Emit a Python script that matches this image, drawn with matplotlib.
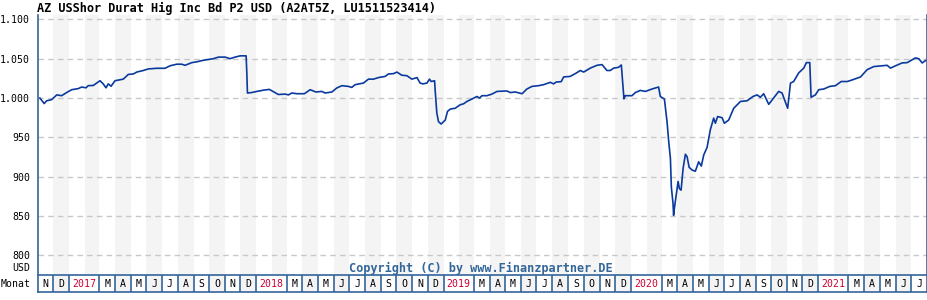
import matplotlib
matplotlib.use("Agg")
import matplotlib.pyplot as plt
from matplotlib.ticker import FuncFormatter
import datetime as dt

# fund price in USD, x = decimal year
t = [2016.845, 2016.868, 2016.881, 2016.908, 2016.935, 2016.961, 2016.988, 2017.015,
     2017.050, 2017.068, 2017.091, 2017.103, 2017.130, 2017.166, 2017.183, 2017.198,
     2017.210, 2017.225, 2017.246, 2017.290, 2017.317, 2017.344, 2017.362, 2017.397,
     2017.424, 2017.469, 2017.513, 2017.540, 2017.576, 2017.602, 2017.620, 2017.656,
     2017.682, 2017.718, 2017.771, 2017.798, 2017.834, 2017.860, 2017.887, 2017.914,
     2017.946, 2017.950, 2017.953, 2017.976, 2018.003, 2018.038, 2018.070, 2018.092,
     2018.118, 2018.154, 2018.172, 2018.190, 2018.217, 2018.257, 2018.288, 2018.318,
     2018.350, 2018.368, 2018.404, 2018.430, 2018.457, 2018.492, 2018.510, 2018.528,
     2018.572, 2018.599, 2018.626, 2018.652, 2018.688, 2018.706, 2018.733, 2018.751,
     2018.777, 2018.804, 2018.831, 2018.858, 2018.875, 2018.890, 2018.911, 2018.925,
     2018.934, 2018.952, 2018.955, 2018.964, 2018.973, 2018.987, 2019.009, 2019.021,
     2019.036, 2019.062, 2019.089, 2019.107, 2019.125, 2019.151, 2019.178, 2019.192,
     2019.205, 2019.232, 2019.258, 2019.285, 2019.338, 2019.356, 2019.383, 2019.419,
     2019.445, 2019.472, 2019.507, 2019.534, 2019.570, 2019.587, 2019.602, 2019.628,
     2019.641, 2019.676, 2019.703, 2019.730, 2019.748, 2019.783, 2019.819, 2019.846,
     2019.872, 2019.890, 2019.908, 2019.934, 2019.949, 2019.958, 2019.963, 2019.970,
     2020.006, 2020.024, 2020.050, 2020.077, 2020.113, 2020.148, 2020.157, 2020.179,
     2020.193, 2020.202, 2020.211, 2020.216, 2020.225, 2020.228, 2020.234, 2020.243,
     2020.252, 2020.259, 2020.268, 2020.279, 2020.291, 2020.300, 2020.311, 2020.327,
     2020.344, 2020.362, 2020.376, 2020.389, 2020.407, 2020.424, 2020.442, 2020.451,
     2020.463, 2020.487, 2020.499, 2020.522, 2020.549, 2020.585, 2020.620, 2020.652,
     2020.674, 2020.691, 2020.709, 2020.736, 2020.762, 2020.789, 2020.807, 2020.830,
     2020.837, 2020.852, 2020.869, 2020.896, 2020.923, 2020.937, 2020.955, 2020.962,
     2020.985, 2021.003, 2021.030, 2021.062, 2021.092, 2021.123, 2021.155, 2021.181,
     2021.226, 2021.261, 2021.297, 2021.342, 2021.368, 2021.386, 2021.413, 2021.448,
     2021.475, 2021.519, 2021.537, 2021.555, 2021.573]
price = [1000, 993, 996.5, 998, 1004, 1003, 1007, 1010.6,
         1012, 1014, 1013, 1015.7, 1016, 1022, 1018, 1013,
         1018, 1015, 1022, 1024, 1030, 1030.6, 1033, 1035,
         1037, 1037.8, 1037.8, 1041, 1043, 1043, 1041.6, 1045,
         1046, 1048, 1050, 1052, 1052, 1050, 1052, 1053.6,
         1053.6, 1030, 1006.4, 1007, 1008.4, 1010, 1011, 1008,
         1004.5, 1005, 1004, 1006.4, 1005.5, 1005.5, 1010.6, 1007.7,
         1008.4, 1006.4, 1007.7, 1012.8, 1015.7, 1014.8, 1013.5, 1017,
         1019, 1024, 1024, 1026, 1027.5, 1030.6, 1031, 1033,
         1029, 1028.4, 1024, 1026, 1019, 1018, 1019, 1024,
         1021, 1022, 1010.6, 981, 970, 967, 972, 983,
         986, 987, 991.5, 992.7, 995.7, 998.7, 1002, 1000,
         1003, 1003, 1005, 1008.4, 1009, 1007, 1007.7, 1005.5,
         1011.5, 1014.8, 1015.7, 1017, 1020, 1018, 1020.4, 1020.8,
         1026.8, 1027.5, 1031, 1035, 1033, 1038, 1041.6, 1042.5,
         1035, 1035, 1038, 1039, 1042, 1015, 999, 1003,
         1003, 1007, 1009.7, 1008.4, 1011.5, 1014, 1002, 998.7,
         970, 944.6, 923.5, 887, 866, 851, 863, 879,
         894, 885, 883, 911, 928.6, 925.5, 912, 908.5,
         907, 919, 913.6, 927.7, 937.5, 959.6, 974.5, 968,
         976.5, 975, 968, 972, 987, 995.7, 996.5, 1002,
         1004, 1001, 1005.5, 992, 1000, 1008.4, 1006.4, 991.5,
         987, 1019, 1021, 1032, 1038, 1045, 1045, 1001,
         1004, 1010.6, 1011.5, 1014.8, 1015.7, 1021, 1021, 1023,
         1026.8, 1036, 1040, 1041, 1041.6, 1038, 1041, 1044.6,
         1045, 1051, 1050, 1044.6, 1047.6]

title = "AZ USShor Durat Hig Inc Bd P2 USD (A2AT5Z, LU1511523414)"
yticks = [800, 850, 900, 950, 1000, 1050, 1100]
month_letters = ["J", "F", "M", "A", "M", "J", "J", "A", "S", "O", "N", "D"]
start = (2016, 11)
end = (2021, 8)

blue = "#336699"
line_col = "#0a3a9e"
stripe = "#f4f4f4"
red = "#cc0033"
mono = "DejaVu Sans Mono"
small = 7.1


def dec(y, m):
    d = dt.date(y, m, 1)
    n = 366 if (y % 4 == 0) else 365
    return y + (d.timetuple().tm_yday - 1) / n


# list of month starts
months = []
y, m = start
while (y, m) != end:
    months.append((y, m))
    m += 1
    if m > 12:
        y, m = y + 1, 1
x0 = dec(*start)
x1 = dec(*end)

W, H = 928, 300
fig = plt.figure(figsize=(W / 100, H / 100), dpi=100)
L, R = 37.7 / W, 927 / W
ax = fig.add_axes([L, 1 - 275 / H, R - L, (275 - 15) / H])
ax.set_xlim(x0, x1)
ax.set_ylim(775.2, 1105.5)

for (y, m) in months:
    if m % 2 == 0:
        ny, nm = (y, m + 1) if m < 12 else (y + 1, 1)
        ax.axvspan(dec(y, m), dec(ny, nm), color=stripe, lw=0, zorder=0)

for v in yticks:
    ax.axhline(v, color="#c8c8c8", lw=1, ls=(0, (4, 3)), zorder=1)

ax.plot(t, price, color=line_col, lw=1.2, zorder=3)

ax.set_yticks(yticks)
ax.yaxis.set_major_formatter(FuncFormatter(lambda v, p: f"{int(v):,}".replace(",", ".")))
ax.tick_params(axis="y", length=0, pad=5.5, labelsize=small, labelcolor="#000000")
for lab in ax.get_yticklabels():
    lab.set_fontfamily(mono)
ax.set_xticks([])
for s in ["top", "bottom"]:
    ax.spines[s].set_visible(False)
for s in ["left", "right"]:
    ax.spines[s].set_color(blue)
    ax.spines[s].set_linewidth(1.2)

fig.text(37 / W, 1 - 8 / H, title, fontfamily=mono, fontweight="bold", fontsize=8.6,
         ha="left", va="center")
fig.text(30 / W, 1 - 268 / H, "USD", fontfamily=mono, fontsize=small, ha="right", va="center")
fig.text(0.5 / W, 1 - 284 / H, "Monat", fontfamily=mono, fontsize=small, ha="left", va="center")
fig.text(481 / W, 1 - 268 / H, "Copyright (C) by www.Finanzpartner.DE", fontfamily=mono,
         fontweight="bold", fontsize=8.6, color=blue, ha="center", va="center")

# month row
ax2 = fig.add_axes([L, 1 - 292 / H, R - L, 17 / H])
ax2.set_xlim(x0, x1)
ax2.set_ylim(0, 1)
ax2.set_xticks([])
ax2.set_yticks([])
for s in ax2.spines.values():
    s.set_color(blue)
    s.set_linewidth(1.2)

i = 0
while i < len(months):
    y, m = months[i]
    a = dec(y, m)
    if m == 1:
        ny, nm = months[i + 2] if i + 2 < len(months) else end
        b = dec(ny, nm)
        ax2.text((a + b) / 2, 0.45, str(y), color=red, fontfamily=mono, fontsize=small,
                 ha="center", va="center")
        i += 2
    else:
        ny, nm = months[i + 1] if i + 1 < len(months) else end
        b = dec(ny, nm)
        if m % 2 == 0:
            ax2.axvspan(a, b, color=stripe, lw=0, zorder=0)
        ax2.text((a + b) / 2, 0.45, month_letters[m - 1], color="#000000", fontfamily=mono,
                 fontsize=small, ha="center", va="center")
        i += 1
    if a > x0:
        ax2.axvline(a, color=blue, lw=1.2)

fig.savefig("out.png", dpi=100)
